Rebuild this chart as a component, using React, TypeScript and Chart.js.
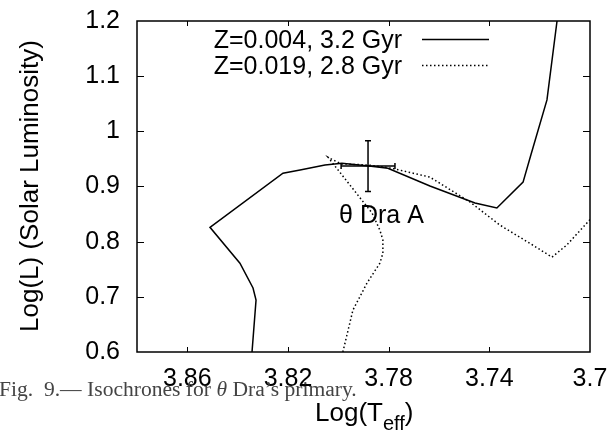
import React, { useEffect, useRef } from "react";
import { Chart, registerables } from "chart.js";
Chart.register(...registerables);

// ---- data ----
const solidT = [3.8343, 3.8327, 3.8339, 3.8391, 3.8510, 3.8220, 3.8152, 3.8053, 3.7986, 3.7878, 3.7803, 3.7636, 3.7457, 3.7370, 3.7266, 3.7235, 3.7171, 3.7131];
const solidL = [0.600, 0.694, 0.716, 0.761, 0.826, 0.924, 0.930, 0.939, 0.942, 0.937, 0.933, 0.901, 0.870, 0.861, 0.908, 0.957, 1.057, 1.200];

const dottedT = [3.7982, 3.7942, 3.7886, 3.7835, 3.7823, 3.7823, 3.7835, 3.7866, 3.7906, 3.8041, 3.7990, 3.7882, 3.7787, 3.7636, 3.7477, 3.7358, 3.7239, 3.7151, 3.7092, 3.7008, 3.6980];
const dottedL = [0.600, 0.676, 0.725, 0.761, 0.779, 0.803, 0.821, 0.852, 0.875, 0.953, 0.941, 0.939, 0.933, 0.917, 0.872, 0.830, 0.797, 0.772, 0.794, 0.836, 0.850];

const starT = [3.7882];
const starL = [0.937];
const starTErr = [0.0107];
const starLErr = [0.046];
const starName = "θ Dra A";
const starLabelT = 3.7997;
const starLabelL = 0.8337;

const seriesNames = ["Z=0.004, 3.2 Gyr", "Z=0.019, 2.8 Gyr"];
const xTicks = [3.86, 3.82, 3.78, 3.74, 3.7];
const yTicks = [0.6, 0.7, 0.8, 0.9, 1.0, 1.1, 1.2];
const xMin = 3.7, xMax = 3.88, yMin = 0.6, yMax = 1.2;

const SANS = "'Liberation Sans', Arial, sans-serif";
const SERIF = "'Liberation Serif', 'Times New Roman', serif";

const fmt = (v: number) => String(Number(Number(v).toFixed(2)));

const overlay = {
  id: "overlay",
  afterDatasetsDraw(chart: any) {
    const ctx = chart.ctx;
    const xs = chart.scales.x, ys = chart.scales.y;
    ctx.save();
    ctx.strokeStyle = "#000";
    ctx.lineWidth = 1.5;
    for (let i = 0; i < starT.length; i++) {
      const cx = xs.getPixelForValue(starT[i]);
      const cy = ys.getPixelForValue(starL[i]);
      const x1 = xs.getPixelForValue(starT[i] + starTErr[i]);
      const x2 = xs.getPixelForValue(starT[i] - starTErr[i]);
      const y1 = ys.getPixelForValue(starL[i] + starLErr[i]);
      const y2 = ys.getPixelForValue(starL[i] - starLErr[i]);
      ctx.beginPath();
      ctx.moveTo(x1, cy); ctx.lineTo(x2, cy);
      ctx.moveTo(x1, cy - 3); ctx.lineTo(x1, cy + 3);
      ctx.moveTo(x2, cy - 3); ctx.lineTo(x2, cy + 3);
      ctx.moveTo(cx, y1); ctx.lineTo(cx, y2);
      ctx.moveTo(cx - 3, y1); ctx.lineTo(cx + 3, y1);
      ctx.moveTo(cx - 3, y2); ctx.lineTo(cx + 3, y2);
      ctx.stroke();
    }
    ctx.restore();
  },
  afterDraw(chart: any) {
    const ctx = chart.ctx;
    const a = chart.chartArea;
    const xs = chart.scales.x, ys = chart.scales.y;
    ctx.save();
    // frame
    ctx.strokeStyle = "#000";
    ctx.lineWidth = 1.5;
    ctx.strokeRect(a.left, a.top, a.right - a.left, a.bottom - a.top);
    // inward ticks
    ctx.lineWidth = 1;
    ctx.beginPath();
    xTicks.forEach((v) => {
      const p = Math.round(xs.getPixelForValue(v)) + 0.5;
      if (p <= a.left + 1 || p >= a.right - 1) return;
      ctx.moveTo(p, a.bottom); ctx.lineTo(p, a.bottom - 5);
      ctx.moveTo(p, a.top); ctx.lineTo(p, a.top + 5);
    });
    yTicks.forEach((v) => {
      const p = Math.round(ys.getPixelForValue(v)) + 0.5;
      if (p <= a.top + 1 || p >= a.bottom - 1) return;
      ctx.moveTo(a.left, p); ctx.lineTo(a.left + 7, p);
      ctx.moveTo(a.right, p); ctx.lineTo(a.right - 7, p);
    });
    ctx.stroke();

    // legend
    ctx.fillStyle = "#000";
    ctx.font = `25px ${SANS}`;
    ctx.textAlign = "right";
    ctx.textBaseline = "alphabetic";
    ctx.fillText(seriesNames[0], 402, 47.5);
    ctx.fillText(seriesNames[1], 402, 74);
    ctx.lineWidth = 1.5;
    ctx.beginPath();
    ctx.moveTo(422, 39.5); ctx.lineTo(489, 39.5);
    ctx.stroke();
    ctx.setLineDash([1.5, 2.5]);
    ctx.beginPath();
    ctx.moveTo(422, 65.5); ctx.lineTo(489, 65.5);
    ctx.stroke();
    ctx.setLineDash([]);

    // star label
    ctx.textAlign = "left";
    ctx.fillText(starName, xs.getPixelForValue(starLabelT), ys.getPixelForValue(starLabelL));

    // y title
    ctx.save();
    ctx.translate(31, 186);
    ctx.rotate(-Math.PI / 2);
    ctx.font = `26px ${SANS}`;
    ctx.textAlign = "center";
    ctx.textBaseline = "middle";
    ctx.fillText("Log(L) (Solar Luminosity)", 0, 0);
    ctx.restore();

    // x title with subscript
    ctx.textAlign = "left";
    ctx.textBaseline = "alphabetic";
    let x = 315;
    ctx.font = `26px ${SANS}`;
    ctx.fillText("Log(T", x, 421);
    x += ctx.measureText("Log(T").width;
    ctx.font = `20px ${SANS}`;
    ctx.fillText("eff", x, 430);
    x += ctx.measureText("eff").width;
    ctx.font = `26px ${SANS}`;
    ctx.fillText(")", x, 421);

    // caption
    const p1 = "Fig.  9.— Isochrones for ";
    const p2 = "θ";
    const p3 = " Dra’s primary.";
    ctx.font = `100px ${SERIF}`;
    let w = ctx.measureText(p1 + p3).width;
    ctx.font = `italic 100px ${SERIF}`;
    w += ctx.measureText(p2).width;
    const size = (358 / w) * 100;
    ctx.fillStyle = "#444";
    let cx = -1;
    ctx.font = `${size}px ${SERIF}`;
    ctx.fillText(p1, cx, 396);
    cx += ctx.measureText(p1).width;
    ctx.font = `italic ${size}px ${SERIF}`;
    ctx.fillText(p2, cx, 396);
    cx += ctx.measureText(p2).width;
    ctx.font = `${size}px ${SERIF}`;
    ctx.fillText(p3, cx, 396);
    ctx.restore();
  },
};

export default function App() {
  const ref = useRef<HTMLCanvasElement>(null);
  useEffect(() => {
    if (!ref.current) return;
    Chart.defaults.font.family = SANS;
    const chart = new Chart(ref.current, {
      type: "line",
      data: {
        datasets: [
          {
            label: seriesNames[0],
            data: solidT.map((t, i) => ({ x: t, y: solidL[i] })),
            borderColor: "#000",
            borderWidth: 1.5,
            pointRadius: 0,
            tension: 0,
            fill: false,
          },
          {
            label: seriesNames[1],
            data: dottedT.map((t, i) => ({ x: t, y: dottedL[i] })),
            borderColor: "#000",
            borderWidth: 1.5,
            borderDash: [1.5, 2.5],
            pointRadius: 0,
            tension: 0,
            fill: false,
          },
        ],
      },
      options: {
        animation: false,
        responsive: false,
        devicePixelRatio: 1,
        layout: { padding: { left: 0, right: 24, top: 21, bottom: 0 } },
        plugins: { legend: { display: false }, tooltip: { enabled: false } },
        scales: {
          x: {
            type: "linear",
            reverse: true,
            min: xMin,
            max: xMax,
            afterBuildTicks: (s: any) => { s.ticks = xTicks.map((v) => ({ value: v })); },
            afterFit: (s: any) => { s.height = 83; s.paddingLeft = 0; s.paddingRight = 0; },
            grid: { display: false, drawTicks: false },
            border: { display: false },
            ticks: {
              font: { size: 25 },
              color: "#000",
              padding: 12,
              maxRotation: 0,
              autoSkip: false,
              callback: (v: any) => fmt(v),
            },
          },
          y: {
            type: "linear",
            min: yMin,
            max: yMax,
            afterBuildTicks: (s: any) => { s.ticks = yTicks.map((v) => ({ value: v })); },
            afterFit: (s: any) => { s.width = 137; s.paddingTop = 0; s.paddingBottom = 0; },
            grid: { display: false, drawTicks: false },
            border: { display: false },
            ticks: {
              font: { size: 25 },
              color: "#000",
              padding: 17,
              autoSkip: false,
              callback: (v: any) => fmt(v),
            },
          },
        },
      },
      plugins: [overlay],
    } as any);
    return () => chart.destroy();
  }, []);
  return (
    <div style={{ position: "absolute", left: 0, top: 0, width: 614, height: 435, background: "#fff" }}>
      <canvas ref={ref} width={614} height={435} style={{ display: "block" }} />
    </div>
  );
}
